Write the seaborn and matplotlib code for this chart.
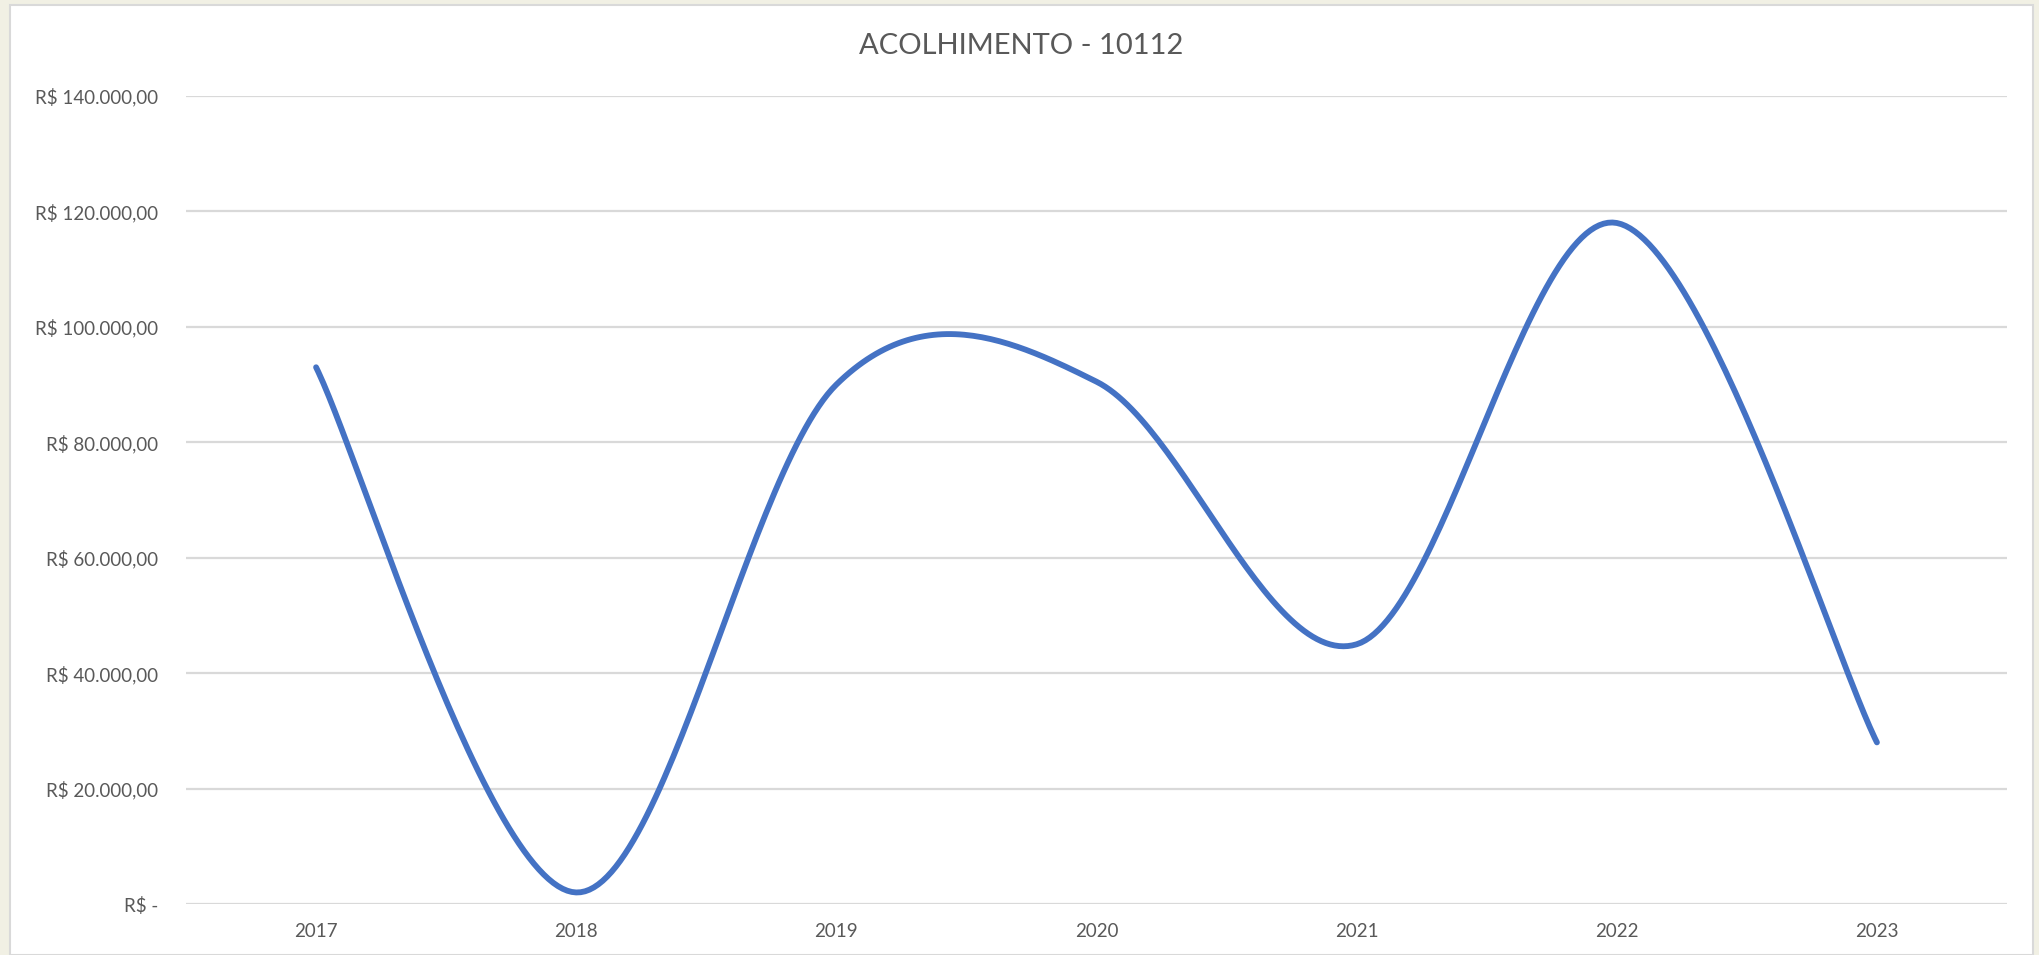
import numpy as np
import pandas as pd
import matplotlib
matplotlib.use("Agg")
import matplotlib.pyplot as plt
import seaborn as sns
from matplotlib.patches import Rectangle
from matplotlib.ticker import FuncFormatter, FixedLocator

# ---- data ----
years = ["2017", "2018", "2019", "2020", "2021", "2022", "2023"]
values = [93000, 2000, 90000, 90500, 45000, 118000, 28000]
title = "ACOLHIMENTO - 10112"
y_ticks = [0, 20000, 40000, 60000, 80000, 100000, 120000, 140000]

sns.set_theme(style="white")
plt.rcParams['font.family'] = ['Lato', 'DejaVu Sans']

W, H = 2040, 955
fig = plt.figure(figsize=(W / 100, H / 100), dpi=100)
fig.patch.set_facecolor("#f1f0e4")

# white chart area
fig.patches.append(Rectangle((10 / W, 0), (2033 - 10) / W, (H - 5) / H,
                             transform=fig.transFigure, facecolor="white",
                             edgecolor="#d9d9d9", linewidth=1.5, zorder=-10))

ax = fig.add_axes([186 / W, (H - 904) / H, (2007 - 186) / W, (904 - 96) / H])
ax.set_facecolor("none")
ax.set_zorder(5)


# Excel-like smoothed line (Bezier through data points, Catmull-Rom controls)
def smooth(xs, ys, n=60):
    xs = np.asarray(xs, float)
    ys = np.asarray(ys, float)
    P = np.column_stack([xs, ys])
    out = []
    for i in range(len(P) - 1):
        p0 = P[i - 1] if i > 0 else P[i]
        p1 = P[i]
        p2 = P[i + 1]
        p3 = P[i + 2] if i + 2 < len(P) else P[i + 1]
        c1 = p1 + (p2 - p0) / 6
        c2 = p2 - (p3 - p1) / 6
        t = np.linspace(0, 1, n)[:, None]
        seg = ((1 - t) ** 3) * p1 + 3 * ((1 - t) ** 2) * t * c1 + 3 * (1 - t) * t ** 2 * c2 + t ** 3 * p2
        out.append(seg if i == 0 else seg[1:])
    S = np.vstack(out)
    return S[:, 0], S[:, 1]


xi = np.arange(len(years))
sx, sy = smooth(xi, values)
df = pd.DataFrame({"x": sx, "y": sy})
sns.lineplot(data=df, x="x", y="y", sort=False, ax=ax, color="#4472C4",
             linewidth=4.2, solid_capstyle="round", clip_on=False, zorder=3)

ax.set_xlim(-0.5, len(years) - 0.5)
ax.set_ylim(0, 140000)
ax.set_xticks(xi)
ax.set_xticklabels(years)
ax.yaxis.set_major_locator(FixedLocator(y_ticks))


def fmt(v, pos):
    if v == 0:
        return "R$ -"
    s = f"{v:,.2f}".replace(",", "X").replace(".", ",").replace("X", ".")
    return "R$ " + s


ax.yaxis.set_major_formatter(FuncFormatter(fmt))
ax.grid(axis="y", color="#d9d9d9", linewidth=1.6)
ax.grid(axis="x", visible=False)
for s in ax.spines.values():
    s.set_visible(False)
ax.tick_params(axis="both", length=0, labelsize=13.5, labelcolor="#595959")
ax.tick_params(axis="y", pad=20)
ax.tick_params(axis="x", pad=14)
ax.set_xlabel("")
ax.set_ylabel("")

fig.text(1021 / W, 1 - 46 / H, title, ha="center", va="center",
         fontsize=21, color="#595959")

fig.savefig("out.png", dpi=100, facecolor=fig.get_facecolor())
